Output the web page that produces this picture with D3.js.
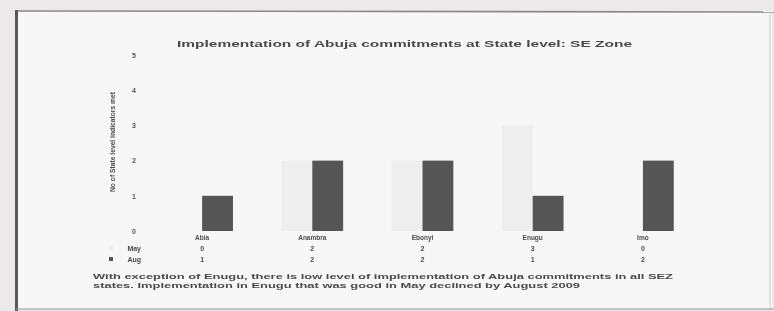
<!DOCTYPE html>
<html lang="en">
<head>
<meta charset="utf-8">
<title>Abuja commitments SE Zone</title>
<script src="https://d3js.org/d3.v7.min.js"></script>
<style>
  body { margin: 0; background: #ebe9e9; }
  svg text { font-family: "Liberation Sans", Arial, sans-serif; fill: #4a4a4a; }
</style>
</head>
<body>
<div id="chart"></div>
<script>
// chart data
var states = ["Abia", "Anambra", "Ebonyi", "Enugu", "Imo"];
var series = ["May", "Aug"];
var mayValues = [0, 2, 2, 3, 0];
var augValues = [1, 2, 2, 1, 2];
var yTicks = [0, 1, 2, 3, 4, 5];
var title = "Implementation of Abuja commitments at State level: SE Zone";
var yTitle = "No of State level indicators met";
var caption = ["With exception of Enugu, there is low level of implementation of Abuja commitments in all SEZ",
               "states. Implementation in Enugu that was good in May declined by August 2009"];

var width = 774, height = 311;
var colors = { May: "#efeeee", Aug: "#575555" };

var svg = d3.select("#chart").append("svg")
  .attr("width", width)
  .attr("height", height);

// soft photo blur
svg.append("defs").append("filter").attr("id", "soft")
  .append("feGaussianBlur").attr("stdDeviation", 0.75);

// slide behind the photo
svg.append("rect")
  .attr("x", 16).attr("y", 11)
  .attr("width", 756).attr("height", 298)
  .style("fill", "#f8f7f7");

var g = svg.append("g").attr("filter", "url(#soft)");

// slide frame
g.append("line").attr("x1", 15).attr("x2", width).attr("y1", 11).attr("y2", 12)
  .style("stroke", "#8a8888").style("stroke-width", 1.6);
g.append("line").attr("x1", 16.5).attr("x2", 16.5).attr("y1", 10).attr("y2", height)
  .style("stroke", "#5a5858").style("stroke-width", 3);
g.append("line").attr("x1", 770).attr("x2", 770).attr("y1", 12).attr("y2", height)
  .style("stroke", "#cfcdcd").style("stroke-width", 1);
g.append("line").attr("x1", 16).attr("x2", width).attr("y1", 309).attr("y2", 309)
  .style("stroke", "#9a9898").style("stroke-width", 1);

var x0 = d3.scaleBand()
  .domain(states)
  .range([147, 698])
  .paddingInner(0.44)
  .paddingOuter(0.22);

var x1 = d3.scaleBand()
  .domain(series)
  .range([0, x0.bandwidth()]);

var y = d3.scaleLinear()
  .domain([0, 5])
  .range([231, 55]);

var rows = states.map(function(s, i) {
  return { state: s, May: mayValues[i], Aug: augValues[i] };
});

// title
g.append("text")
  .attr("x", 177).attr("y", 47)
  .attr("textLength", 455)
  .attr("lengthAdjust", "spacingAndGlyphs")
  .style("font-size", "8.5px")
  .style("font-weight", "bold")
  .text(title);

// y axis
var yAxis = g.append("g")
  .attr("transform", "translate(139,0)")
  .call(d3.axisLeft(y).tickValues(yTicks).tickSize(0).tickFormat(d3.format("d")));
yAxis.select(".domain").remove();
yAxis.selectAll("text")
  .style("font-size", "7px")
  .style("font-weight", "bold")
  .style("fill", "#555");

g.append("text")
  .attr("transform", "translate(115,142) rotate(-90)")
  .attr("text-anchor", "middle")
  .attr("textLength", 100)
  .attr("lengthAdjust", "spacingAndGlyphs")
  .style("font-size", "7px")
  .style("font-weight", "bold")
  .text(yTitle);

// bars
var groups = g.selectAll("g.state")
  .data(rows)
  .enter()
    .append("g")
    .attr("class", "state")
    .attr("transform", function(d) { return "translate(" + x0(d.state) + ",0)"; });

groups.selectAll("rect")
  .data(function(d) { return series.map(function(k) { return { key: k, value: d[k] }; }); })
  .enter()
    .append("rect")
    .attr("x", function(d) { return x1(d.key); })
    .attr("y", function(d) { return y(d.value); })
    .attr("width", x1.bandwidth())
    .attr("height", function(d) { return y(0) - y(d.value); })
    .style("fill", function(d) { return colors[d.key]; });

// category labels and data table
groups.append("text")
  .attr("x", x0.bandwidth() / 2)
  .attr("y", 240)
  .attr("text-anchor", "middle")
  .style("font-size", "6.5px")
  .style("font-weight", "bold")
  .text(function(d) { return d.state; });

series.forEach(function(k, i) {
  var rowY = 251 + i * 11;
  groups.append("text")
    .attr("x", x0.bandwidth() / 2)
    .attr("y", rowY)
    .attr("text-anchor", "middle")
    .style("font-size", "7px")
    .style("font-weight", "bold")
    .text(function(d) { return d[k]; });

  g.append("text")
    .attr("x", 141).attr("y", rowY)
    .attr("text-anchor", "end")
    .style("font-size", "7px")
    .style("font-weight", "bold")
    .text(k);

  g.append("rect")
    .attr("x", 109).attr("y", rowY - 5)
    .attr("width", 4).attr("height", 4)
    .style("fill", colors[k]);
});

// caption
caption.forEach(function(line, i) {
  g.append("text")
    .attr("x", 93).attr("y", 279 + i * 9)
    .attr("textLength", i == 0 ? 580 : 487)
    .attr("lengthAdjust", "spacingAndGlyphs")
    .style("font-size", "7px")
    .style("font-weight", "bold")
    .text(line);
});
</script>
</body>
</html>
